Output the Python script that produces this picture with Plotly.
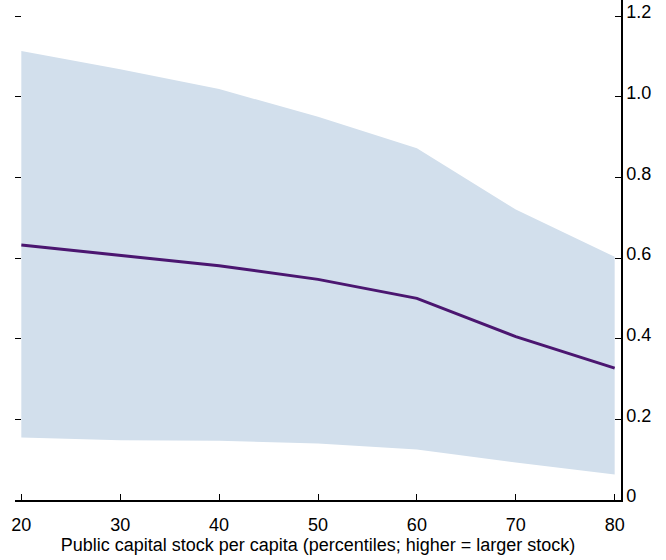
import plotly.graph_objects as go

percentiles = [20, 30, 40, 50, 60, 70, 80]
estimate = [0.632, 0.606, 0.581, 0.547, 0.500, 0.405, 0.327]
upper = [1.113, 1.068, 1.019, 0.950, 0.872, 0.720, 0.603]
lower = [0.155, 0.148, 0.147, 0.140, 0.125, 0.093, 0.063]

x_ticks = [20, 30, 40, 50, 60, 70, 80]
y_ticks = [0, 0.2, 0.4, 0.6, 0.8, 1.0, 1.2]
y_ticktext = ["0", "0.2", "0.4", "0.6", "0.8", "1.0", "1.2"]

BAND = "#D2DFEC"
LINE = "#4B1670"
FONT = "Liberation Sans, Arial, sans-serif"

fig = go.Figure()
fig.add_trace(go.Scatter(x=percentiles, y=lower, mode="lines",
                         line=dict(width=0, color=BAND), hoverinfo="skip",
                         showlegend=False))
fig.add_trace(go.Scatter(x=percentiles, y=upper, mode="lines", fill="tonexty",
                         fillcolor=BAND, line=dict(width=0, color=BAND),
                         hoverinfo="skip", showlegend=False))
fig.add_trace(go.Scatter(x=percentiles, y=estimate, mode="lines",
                         line=dict(width=3, color=LINE), showlegend=False))
# invisible trace to anchor the left tick-only axis
fig.add_trace(go.Scatter(x=[percentiles[0]], y=[estimate[0]], yaxis="y2",
                         mode="markers", marker=dict(opacity=0),
                         hoverinfo="skip", showlegend=False))

yr = [0, 1.2397]
fig.update_layout(
    width=666, height=560,
    margin=dict(l=15, r=45, t=0, b=60),
    paper_bgcolor="white", plot_bgcolor="white",
    font=dict(family=FONT, size=18, color="black"),
    xaxis=dict(range=[19.36, 80.64], tickvals=x_ticks, ticks="inside",
               ticklen=6, tickwidth=1.3, tickcolor="black",
               showline=True, linecolor="black", linewidth=1.5,
               showgrid=False, zeroline=False, automargin=False,
               ticklabelstandoff=8,
               title=dict(text="Public capital stock per capita (percentiles; higher = larger stock)",
                          font=dict(size=18), standoff=2),
               tickfont=dict(size=18)),
    yaxis=dict(range=yr, side="right", tickvals=y_ticks, ticktext=y_ticktext,
               ticks="inside", ticklen=6, tickwidth=1.3, tickcolor="black",
               showline=True, linecolor="black", linewidth=1.5,
               showgrid=False, zeroline=False, tickfont=dict(size=18),
               ticklabelshift=-4, automargin=False),
    yaxis2=dict(range=yr, overlaying="y", side="left",
                tickvals=y_ticks[1:], ticks="inside", ticklen=6, tickwidth=1.3,
                tickcolor="black", showticklabels=False, showline=False,
                showgrid=False, zeroline=False, automargin=False),
)

fig.write_html("out.html",
               config={"displayModeBar": False},
               post_script="document.body.style.margin='0px';document.body.style.padding='0px';")
